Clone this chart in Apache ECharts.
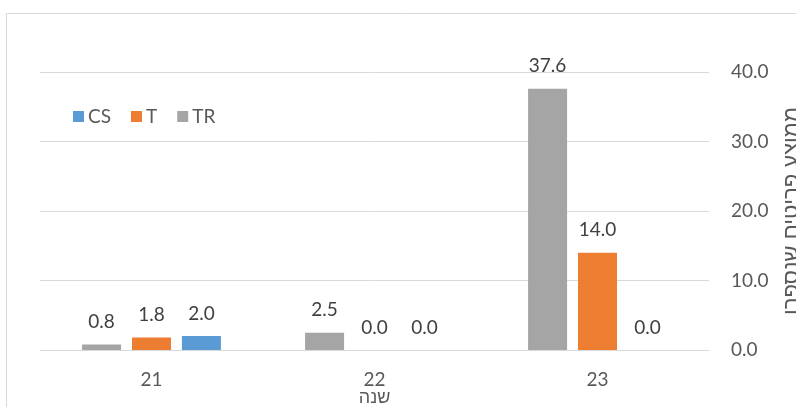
<!DOCTYPE html>
<html>
<head>
<meta charset="utf-8">
<script src="https://cdn.jsdelivr.net/npm/echarts@6/dist/echarts.min.js"></script>
<style>
  html, body { margin: 0; padding: 0; background: #fff; }
  #chart { width: 796px; height: 407px; }
</style>
</head>
<body>
<div id="chart"></div>
<script>
// Years on the category axis
const years = ['21', '22', '23'];
// Average counted items per year, per series
const csValues = [2.0, 0.0, 0.0];
const tValues = [1.8, 0.0, 14.0];
const trValues = [0.8, 2.5, 37.6];
const legendNames = ['CS', 'T', 'TR'];

const FONT = 'Lato, "Liberation Sans", "DejaVu Sans", sans-serif';
const HEB_FONT = '"Liberation Sans", "DejaVu Sans", sans-serif';
const labelStyle = {
  show: true,
  position: 'top',
  distance: 13,
  color: '#404040',
  fontSize: 19,
  fontFamily: FONT,
  formatter: p => p.value.toFixed(1)
};

function barSeries(name, data, color) {
  return {
    name: name,
    type: 'bar',
    data: data,
    barWidth: 39,
    barGap: '28%',
    itemStyle: { color: color },
    label: labelStyle
  };
}

const chart = echarts.init(document.getElementById('chart'));
chart.setOption({
  animation: false,
  backgroundColor: '#fff',
  textStyle: { fontFamily: FONT },
  graphic: [{
    type: 'rect',
    shape: { x: 6.5, y: 13.5, width: 900, height: 500 },
    style: { fill: 'none', stroke: '#d9d9d9', lineWidth: 1 },
    silent: true
  }],
  grid: { left: 40, right: 87, top: 72, bottom: 57, outerBoundsMode: 'none', containLabel: false },
  legend: {
    data: legendNames,
    left: 68,
    top: 102,
    itemWidth: 11,
    itemHeight: 11,
    itemGap: 20,
    icon: 'rect',
    textStyle: { color: '#595959', fontSize: 19, fontFamily: FONT, padding: [0, 0, 0, -1] }
  },
  xAxis: {
    type: 'category',
    data: years,
    name: 'שנה',
    nameLocation: 'middle',
    nameGap: 39,
    nameMoveOverlap: false,
    nameTextStyle: { color: '#595959', fontSize: 18, fontFamily: HEB_FONT },
    axisLine: { lineStyle: { color: '#d9d9d9' } },
    axisTick: { show: false },
    axisLabel: { color: '#595959', fontSize: 19, margin: 20 }
  },
  yAxis: {
    type: 'value',
    position: 'right',
    min: 0,
    max: 40,
    interval: 10,
    name: 'ממוצע פריטים שנספרו',
    nameLocation: 'middle',
    nameRotate: 90,
    nameGap: 72,
    nameMoveOverlap: false,
    nameTextStyle: { color: '#595959', fontSize: 22, fontFamily: HEB_FONT },
    axisLine: { show: false },
    axisTick: { show: false },
    axisLabel: {
      color: '#595959',
      fontSize: 19,
      align: 'left',
      margin: 22,
      formatter: v => v.toFixed(1)
    },
    splitLine: { lineStyle: { color: '#d9d9d9' } }
  },
  series: [
    barSeries('TR', trValues, '#a5a5a5'),
    barSeries('T', tValues, '#ed7d31'),
    barSeries('CS', csValues, '#5b9bd5')
  ]
});
</script>
</body>
</html>
